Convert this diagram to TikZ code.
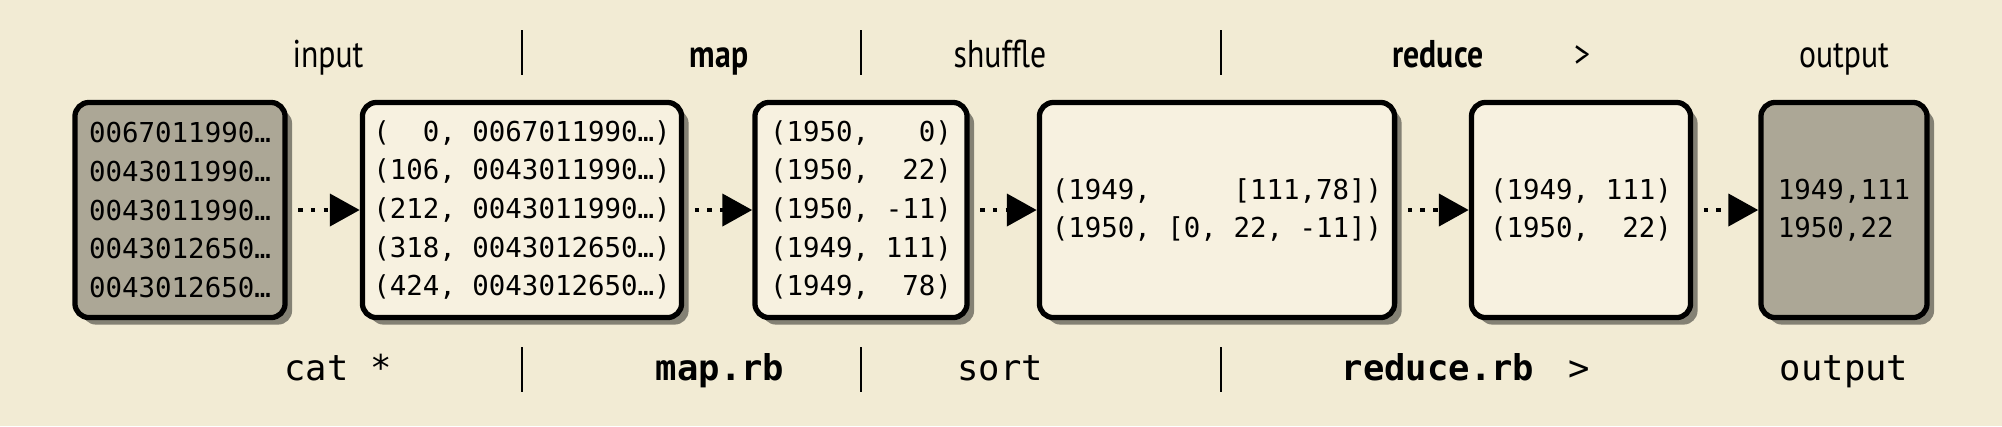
\documentclass[tikz,border=0pt]{standalone}
\usepackage{fontspec}
\setmonofont{DejaVu Sans Mono}
\newfontfamily\labelfont[FakeStretch=0.82]{PT Sans}
\usepackage{xcolor}
\usetikzlibrary{arrows.meta,shadows}
\definecolor{paper}{RGB}{242,235,212}
\definecolor{boxfill}{RGB}{247,241,224}
\definecolor{datafill}{RGB}{172,167,150}

\begin{document}
\begin{tikzpicture}[x=0.01cm, y=-0.01cm,
    every node/.style={inner sep=0pt},
    stage/.style={draw, line width=1.5pt, rounded corners=4pt, fill=boxfill,
        minimum height=2.15cm, align=left,
        font=\fontsize{7.8}{10.95}\selectfont\ttfamily,
        drop shadow={shadow xshift=2pt, shadow yshift=-2pt, opacity=0.45, fill=black}},
    datastage/.style={stage, fill=datafill},
    flow/.style={line width=1.4pt, dash pattern=on 1.3pt off 2.3pt, shorten <=3pt,
        -{Triangle[length=8.5pt, width=9pt]}},
    phase/.style={anchor=base, font=\labelfont\fontsize{11}{13}\selectfont},
    command/.style={anchor=base, font=\fontsize{10.1}{12}\selectfont\ttfamily},
    bar/.style={line width=0.6pt}]
    % Paper
    \useasboundingbox (0,0) rectangle (2002,426);
    \fill[paper] (0,0) rectangle (2002,426);

    % Phase headings
    \node[phase] (h-input) at (328,67) {input};
    \node[phase] (h-map) at (719,67) {\bfseries map};
    \node[phase] (h-shuffle) at (1000,67) {shuffle};
    \node[phase] (h-reduce) at (1438,67) {\bfseries reduce};
    \node[phase] (h-gt) at (1582,67) {>};
    \node[phase] (h-output) at (1844,67) {output};

    % Unix pipeline
    \node[command] (c-cat) at (338,380) {cat *};
    \node[command] (c-map) at (720,380) {\bfseries map.rb};
    \node[command] (c-sort) at (1000,380) {sort};
    \node[command] (c-reduce) at (1438,380) {\bfseries reduce.rb};
    \node[command] (c-gt) at (1579,380) {>};
    \node[command] (c-output) at (1844,380) {output};

    \foreach \x in {522,861,1221} {
        \draw[bar] (\x,30) -- (\x,75);
        \draw[bar] (\x,347) -- (\x,392);
    }

    % Stages
    \node[datastage, minimum width=2.1cm] (input) at (180,210)
        {0067011990…\\0043011990…\\0043011990…\\0043012650…\\0043012650…};
    \node[stage, minimum width=3.19cm] (records) at (522,210)
        {(~~0, 0067011990…)\\(106, 0043011990…)\\(212, 0043011990…)\\(318, 0043012650…)\\(424, 0043012650…)};
    \node[stage, minimum width=2.12cm] (mapped) at (861,210)
        {(1950,~~~0)\\(1950,~~22)\\(1950, -11)\\(1949, 111)\\(1949,~~78)};
    \node[stage, minimum width=3.55cm] (grouped) at (1217,210)
        {(1949,~~~~~[111,78])\\(1950, [0, 22, -11])};
    \node[stage, minimum width=2.19cm] (reduced) at (1581,210)
        {(1949, 111)\\(1950,~~22)};
    \node[datastage, minimum width=1.66cm] (output) at (1844,210)
        {1949,111\\1950,22};

    % Flow
    \draw[flow] (input) -- (records);
    \draw[flow] (records) -- (mapped);
    \draw[flow] (mapped) -- (grouped);
    \draw[flow] (grouped) -- (reduced);
    \draw[flow] (reduced) -- (output);
\end{tikzpicture}
\end{document}
